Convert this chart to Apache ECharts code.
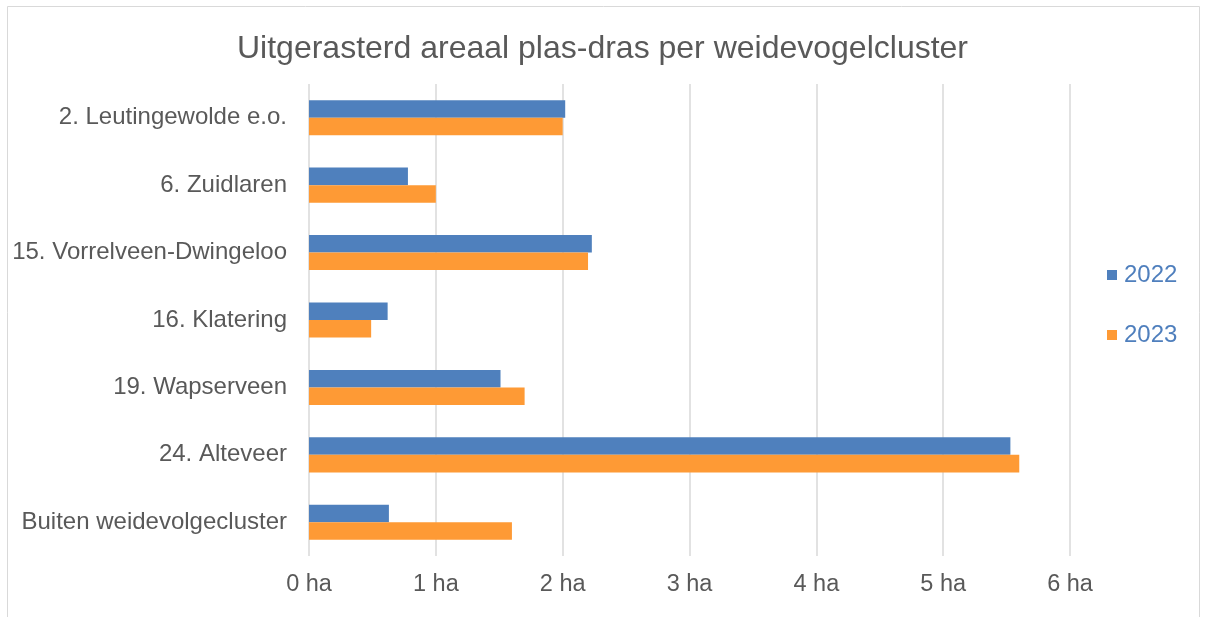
<!DOCTYPE html>
<html>
<head>
<meta charset="utf-8">
<script src="https://cdn.jsdelivr.net/npm/echarts@6/dist/echarts.min.js"></script>
<style>
html,body{margin:0;padding:0;background:#fff;}
#chart{width:1205px;height:617px;}
</style>
</head>
<body>
<div id="chart"></div>
<script>
const titleText = 'Uitgerasterd areaal plas-dras per weidevogelcluster';
const categories = ['2. Leutingewolde e.o.', '6. Zuidlaren', '15. Vorrelveen-Dwingeloo', '16. Klatering', '19. Wapserveen', '24. Alteveer', 'Buiten weidevolgecluster'];
const seriesNames = ['2022', '2023'];
const values2022 = [2.02, 0.78, 2.23, 0.62, 1.51, 5.53, 0.63];
const values2023 = [2.00, 1.00, 2.20, 0.49, 1.70, 5.60, 1.60];

const chart = echarts.init(document.getElementById('chart'), null, {renderer: 'canvas'});
const font = '"Liberation Sans", Arial, sans-serif';
chart.setOption({
  animation: false,
  backgroundColor: '#fff',
  textStyle: {fontFamily: font},
  graphic: [{
    type: 'rect', silent: true, z: -1,
    shape: {x: 7.5, y: 6.5, width: 1192, height: 640},
    style: {fill: 'none', stroke: '#d9d9d9', lineWidth: 1}
  }],
  title: {
    text: titleText, left: 'center', top: 28,
    textStyle: {fontFamily: font, fontSize: 32, fontWeight: 'normal', color: '#595959'}
  },
  legend: {
    orient: 'vertical', left: 1102, top: 258, itemGap: 36,
    icon: 'rect', itemWidth: 10, itemHeight: 10,
    textStyle: {fontFamily: font, fontSize: 24, color: '#4f7fbd', padding: [0,0,0,2]},
    data: seriesNames
  },
  grid: {left: 309, right: 135, top: 84, bottom: 61, containLabel: false},
  xAxis: {
    type: 'value', min: 0, max: 6, interval: 1,
    axisLine: {show: false}, axisTick: {show: false},
    splitLine: {show: true, lineStyle: {color: '#d9d9d9', width: 1.5}},
    axisLabel: {formatter: '{value} ha', fontFamily: font, fontSize: 23.5, color: '#595959', margin: 17}
  },
  yAxis: {
    type: 'category', data: categories, inverse: true,
    axisLine: {show: false}, axisTick: {show: false},
    axisLabel: {fontFamily: font, fontSize: 24, color: '#595959', margin: 22, padding: [4, 0, 0, 0]}
  },
  series: [
    {name: seriesNames[0], type: 'bar', data: values2022, barGap: '0%', barCategoryGap: '48%', itemStyle: {color: '#4f80bd'}},
    {name: seriesNames[1], type: 'bar', data: values2023, barGap: '0%', barCategoryGap: '48%', itemStyle: {color: '#fe9a35'}}
  ]
});
</script>
</body>
</html>
